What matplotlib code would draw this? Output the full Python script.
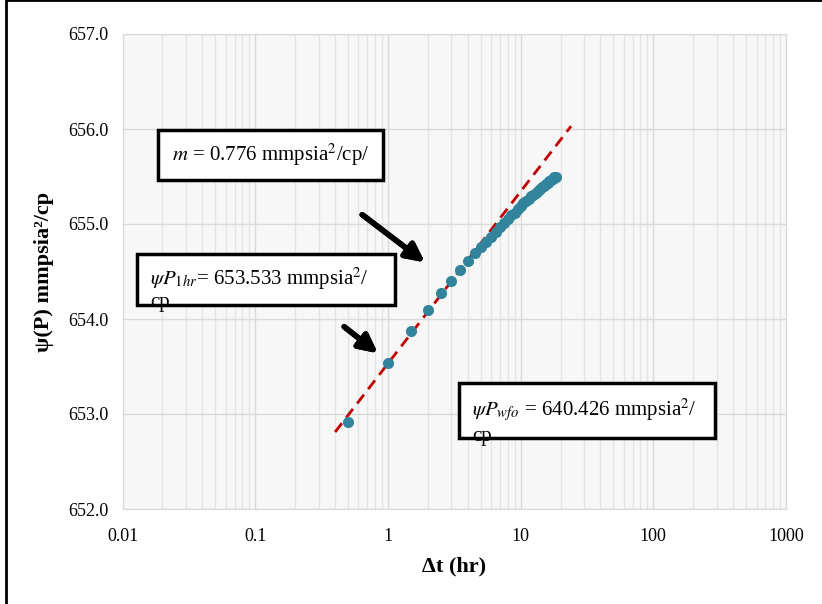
import matplotlib.pyplot as plt
from matplotlib.patches import Rectangle
from matplotlib.ticker import FixedLocator, LogLocator, NullFormatter

plt.rcParams['font.family'] = ['Liberation Serif', 'DejaVu Serif']
plt.rcParams['mathtext.fontset'] = 'stix'

# pressure function vs shut-in time
dt_hr = [0.5, 1.0, 1.5, 2.0, 2.5, 3.0, 3.5, 4.0, 4.5,
         5.0, 5.5, 6.0, 6.5, 7.0, 7.5, 8.0, 8.5, 9.0, 9.5,
         10.0, 10.5, 11.0, 11.5, 12.0, 12.5, 13.0, 13.5, 14.0, 14.5,
         15.0, 15.5, 16.0, 16.5, 17.0, 17.5, 18.0, 18.5]
psi_p = [652.92, 653.54, 653.87, 654.10, 654.27, 654.40, 654.52, 654.61, 654.69,
         654.76, 654.81, 654.86, 654.92, 654.97, 655.01, 655.05, 655.09, 655.12, 655.16,
         655.19, 655.22, 655.24, 655.26, 655.29, 655.31, 655.33, 655.35, 655.37, 655.39,
         655.40, 655.42, 655.43, 655.45, 655.46, 655.47, 655.49, 655.50]

# semilog straight line fit
fit_t = [0.4, 24.0]
fit_psi = [652.81, 656.03]

x_ticks = [0.01, 0.1, 1, 10, 100, 1000]
x_tick_labels = ['0.01', '0.1', '1', '10', '100', '1000']
y_ticks = [652.0, 653.0, 654.0, 655.0, 656.0, 657.0]

W, H = 822, 604
fig = plt.figure(figsize=(W / 100, H / 100), dpi=100)
ax = fig.add_axes([122.5 / W, 1 - 509 / H, (786 - 122.5) / W, (509 - 34) / H])
ax.set_facecolor('#f7f7f7')

ax.plot(fit_t, fit_psi, color='#c00000', lw=2, ls=(0, (4, 2.5)), zorder=3)
ax.scatter(dt_hr, psi_p, s=64, color='#31849b', zorder=4, linewidths=0)

ax.set_xscale('log')
ax.set_xlim(0.01, 1000)
ax.set_ylim(652, 657)
ax.xaxis.set_major_locator(FixedLocator(x_ticks))
ax.set_xticklabels(x_tick_labels)
ax.xaxis.set_minor_locator(LogLocator(base=10, subs=range(2, 10)))
ax.xaxis.set_minor_formatter(NullFormatter())
ax.set_yticks(y_ticks)
ax.set_yticklabels([f'{v:.1f}' for v in y_ticks])
ax.tick_params(which='both', length=0, labelsize=13)
ax.tick_params(axis='x', pad=14)
ax.tick_params(axis='y', pad=10)
ax.grid(True, which='major', color='#d9d9d9', lw=1)
ax.grid(True, which='minor', axis='x', color='#e4e4e4', lw=1)
for s in ax.spines.values():
    s.set_color('#d9d9d9')

ax.set_xlabel('Δt (hr)', fontsize=16, fontweight='bold', labelpad=8)
ax.set_ylabel('ψ(P) mmpsia²/cp', fontsize=16, fontweight='bold', labelpad=10)


def px(x, y):
    return x / W, 1 - y / H


def box(x0, y0, x1, y1):
    r = Rectangle(px(x0, y1), (x1 - x0) / W, (y1 - y0) / H, transform=fig.transFigure,
                  facecolor='white', edgecolor='black', lw=2.5, zorder=5)
    fig.add_artist(r)


box(158, 130, 383, 180)
fig.text(*px(172, 155), r'$m$ = 0.776 mmpsia$^{2}$/cp/', fontsize=15, va='center', zorder=6)

box(137, 254, 395, 305)
fig.text(*px(150, 279), r'$\psi P_{1hr}$= 653.533 mmpsia$^{2}$/', fontsize=15, va='center', zorder=6)
fig.text(*px(150, 303), 'cp', fontsize=15, va='center', zorder=6)

box(459, 383, 715, 438)
fig.text(*px(472, 410), r'$\psi P_{wfo}$ = 640.426 mmpsia$^{2}$/', fontsize=15, va='center', zorder=6)
fig.text(*px(472, 436), 'cp', fontsize=15, va='center', zorder=6)

for (xs, ys, xe, ye) in [(360, 213, 427, 264), (342, 325, 380, 355)]:
    fig.add_artist(plt.annotate('', xy=px(xe, ye), xytext=px(xs, ys), xycoords='figure fraction',
                                arrowprops=dict(arrowstyle='-|>,head_length=1.1,head_width=0.55',
                                                color='black', lw=4)))

# outer frame (cut off at right and bottom)
fig.add_artist(Rectangle(px(6, 700), 1.2, 700 / H, transform=fig.transFigure,
                         facecolor='none', edgecolor='black', lw=2))

fig.savefig('out.png', dpi=100)
